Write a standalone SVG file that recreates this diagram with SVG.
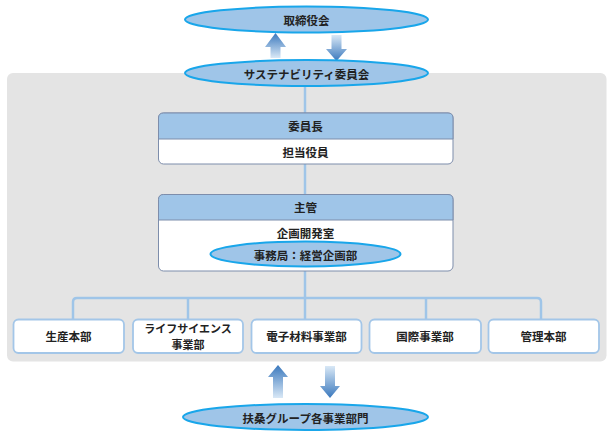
<svg xmlns="http://www.w3.org/2000/svg" width="612" height="437" viewBox="0 0 612 437">
<style>
text{font-family:"Noto Sans CJK JP","Noto Sans",sans-serif;font-weight:bold;font-size:11.5px;fill:#222;text-anchor:middle;dominant-baseline:central}
.ell{fill:#9fc5e8;stroke:#19a6ea;stroke-width:2}
.box{fill:#fff;stroke:#7d8dab;stroke-width:1}
.hdr{fill:#9fc5e8;stroke:#7d8dab;stroke-width:1}
.unit{fill:#fff;stroke:#a3c6e8;stroke-width:1.8}
.ln{fill:none;stroke:#9fc5e8;stroke-width:2.5}
</style>
<defs>
<linearGradient id="gUp" x1="0" y1="0" x2="0" y2="1">
<stop offset="0" stop-color="#3a78bd"/>
<stop offset="1" stop-color="#d9e8f6"/>
</linearGradient>
<linearGradient id="gDown" x1="0" y1="0" x2="0" y2="1">
<stop offset="0" stop-color="#d9e8f6"/>
<stop offset="1" stop-color="#3a78bd"/>
</linearGradient>
</defs>
<rect x="7" y="73" width="599.5" height="288.5" rx="6" fill="#e4e4e4"/>
<g id="connectors">
<path class="ln" d="M305 86V113M305 164V194M305 271V298"/>
<path class="ln" d="M73 319V302Q73 298 77 298H537Q541 298 541 302V319M188 298V319M305 298V319M426 298V319"/>
<path d="M275.5 33L286 47H280.5V58H270.5V47H265Z" fill="url(#gUp)"/>
<path d="M336.5 61L347 49H341.5V35H331.5V49H326Z" fill="url(#gDown)"/>
<path d="M278 365L288 377H283V398H273V377H268Z" fill="url(#gUp)"/>
<path d="M330 398L340 386H335V366H325V386H320Z" fill="url(#gDown)"/>
</g>
<g id="board">
<ellipse class="ell" cx="306.5" cy="19.5" rx="121.5" ry="13"/>
<text x="306.5" y="20">取締役会</text>
</g>
<g id="committee">
<ellipse class="ell" cx="306.5" cy="73" rx="121.5" ry="13"/>
<text x="306.5" y="73.5">サステナビリティ委員会</text>
</g>
<g id="chair">
<rect class="box" x="158.5" y="113" width="294.5" height="51" rx="5"/>
<path class="hdr" d="M158.5 139V118Q158.5 113 163.5 113H448Q453 113 453 118V139Z"/>
<text x="305.5" y="126">委員長</text>
<text x="305.5" y="152">担当役員</text>
</g>
<g id="lead">
<rect class="box" x="158.5" y="194.5" width="294.5" height="76.5" rx="5"/>
<path class="hdr" d="M158.5 220V199.5Q158.5 194.5 163.5 194.5H448Q453 194.5 453 199.5V220Z"/>
<text x="305.5" y="207">主管</text>
<text x="305.5" y="233">企画開発室</text>
</g>
<g id="secretariat">
<ellipse class="ell" cx="305.5" cy="254" rx="95" ry="12.5"/>
<text x="305.5" y="254.5">事務局：経営企画部</text>
</g>
<g id="u1">
<rect class="unit" x="13.5" y="319.5" width="110.5" height="33.5" rx="5"/>
<text x="68.5" y="336">生産本部</text>
</g>
<g id="u2">
<rect class="unit" x="133" y="319.5" width="110" height="33.5" rx="5"/>
<text x="188" y="328" style="font-size:11px"><tspan x="188" y="328">ライフサイエンス</tspan><tspan x="188" y="344">事業部</tspan></text>
</g>
<g id="u3">
<rect class="unit" x="251.5" y="319.5" width="110" height="33.5" rx="5"/>
<text x="306.5" y="336">電子材料事業部</text>
</g>
<g id="u4">
<rect class="unit" x="369.5" y="319.5" width="111.5" height="33.5" rx="5"/>
<text x="425" y="336">国際事業部</text>
</g>
<g id="u5">
<rect class="unit" x="488.5" y="319.5" width="110.5" height="33.5" rx="5"/>
<text x="543.5" y="336">管理本部</text>
</g>
<g id="group">
<ellipse class="ell" cx="305.5" cy="417" rx="122.5" ry="13"/>
<text x="305.5" y="417.5">扶桑グループ各事業部門</text>
</g>
</svg>
